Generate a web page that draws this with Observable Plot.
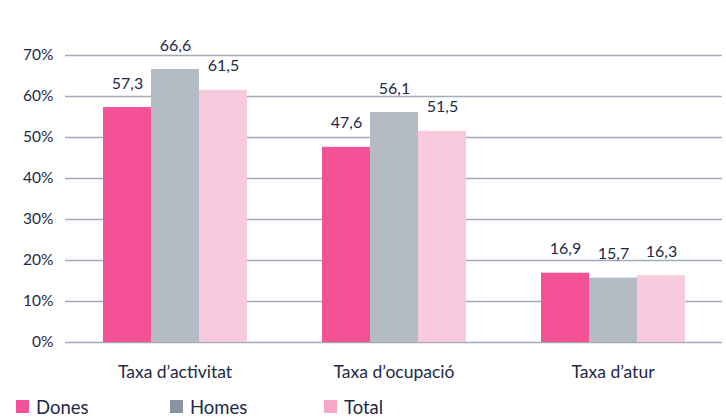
<!DOCTYPE html>
<html><head><meta charset="utf-8">
<script src="https://cdn.jsdelivr.net/npm/d3@7"></script>
<script src="https://cdn.jsdelivr.net/npm/@observablehq/plot@0.6"></script>
<style>
body{margin:0;background:#fff;font-family:Lato,sans-serif;color:#1e2a45}
#legend{position:relative;height:25px;font-size:18.5px;}
.item{position:absolute;top:2px;display:flex;align-items:center;height:25px}
.sw{width:13px;height:13px;margin-right:7px}
</style></head><body><div id="chart"></div><div id="legend"></div>
<script>
const categories = ["Taxa d’activitat","Taxa d’ocupació","Taxa d’atur"];
const series = ["Dones","Homes","Total"];
const dones = [57.3,47.6,16.9];
const homes = [66.6,56.1,15.7];
const total = [61.5,51.5,16.3];
const yTicks = [0,10,20,30,40,50,60,70];
const barColors = ["#f45196","#b4bbc5","#f9c9dd"];
const legendColors = ["#f5519a","#8a94a1","#f7a8ca"];
const values = [dones, homes, total];
const data = categories.flatMap((c,i)=>series.map((s,j)=>({category:c, series:s, value: values[j][i]})));
const fmt = v => v.toFixed(1).replace(".", ",");
const plot = Plot.plot({
  width:726, height:392, marginTop:55, marginBottom:50, marginLeft:64, marginRight:4,
  style:{fontFamily:"Lato, sans-serif", fontSize:"15px", color:"#1e2a45", background:"#fff"},
  fx:{domain:categories, padding:0, label:null},
  x:{domain:series, paddingInner:0, paddingOuter:0.78, axis:null},
  y:{domain:[0,70], label:null},
  color:{domain:series, range:barColors},
  marks:[
    Plot.gridY(yTicks,{stroke:"#a3abb8", strokeOpacity:1, strokeWidth:1.3}),
    Plot.axisY(yTicks,{tickSize:0, tickPadding:12, tickFormat:d=>d+"%", fontSize:"15.5px", label:null}),
    Plot.axisFx({anchor:"bottom", tickSize:0, tickPadding:23, fontSize:"17.5px", label:null}),
    Plot.barY(data,{fx:"category", x:"series", y:"value", fill:"series"}),
    Plot.text(data,{fx:"category", x:"series", y:"value", text:d=>fmt(d.value), dy:-24, fontSize:"16px", fill:"#1e2a45"})
  ]
});
document.getElementById("chart").appendChild(plot);
const legend = document.getElementById("legend");
series.forEach((s,i)=>{
  const it = document.createElement("div");
  it.className="item";
  it.style.left = (16 + i*154) + "px";
  const sw = document.createElement("span");
  sw.className="sw"; sw.style.background = legendColors[i];
  const t = document.createElement("span"); t.textContent = s;
  it.appendChild(sw); it.appendChild(t);
  legend.appendChild(it);
});
</script></body></html>
